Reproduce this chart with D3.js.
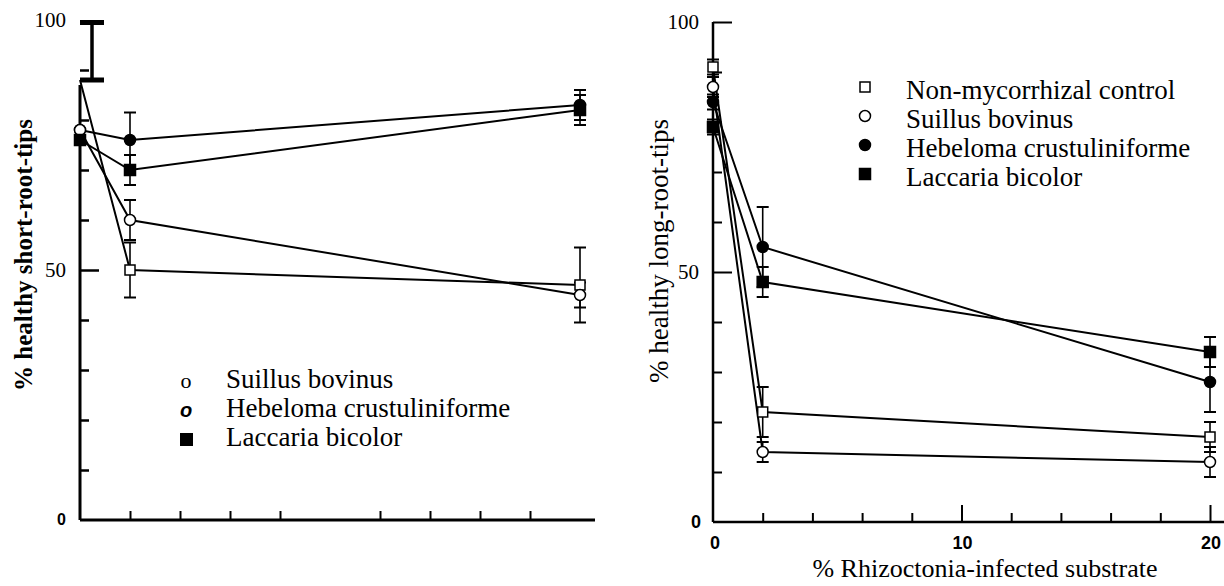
<!DOCTYPE html>
<html>
<head>
<meta charset="utf-8">
<script src="https://cdn.jsdelivr.net/npm/d3@7"></script>
<style>
 body { margin: 0; background: #fff; }
 svg { display: block; }
</style>
</head>
<body>
<div id="chart"></div>
<script>
// x positions (% infected substrate)
var xLevels = [0, 2, 20];

// left panel: % healthy short-root-tips
var shortControl = [88, 50, 47],  shortControlErr = [0, 5.5, 7.5];
var shortSuillus = [78, 60, 45],  shortSuillusErr = [0, 4, 2.5];
var shortHebeloma = [78, 76, 83], shortHebelomaErr = [0, 5.5, 3];
var shortLaccaria = [76, 70, 82], shortLaccariaErr = [0, 3, 3];
var lsdBar = [88, 99.5];   // the lone bar near the top of the left panel

// right panel: % healthy long-root-tips
var longControl = [91, 22, 17],  longControlErr = [1.5, 5, 3];
var longSuillus = [87, 14, 12],  longSuillusErr = [2, 2, 3];
var longHebeloma = [84, 55, 28], longHebelomaErr = [1.5, 8, 6];
var longLaccaria = [79, 48, 34], longLaccariaErr = [1.5, 3, 3];

var seriesNames = ["Non-mycorrhizal control", "Suillus bovinus", "Hebeloma crustuliniforme", "Laccaria bicolor"];
var yTicks = [10, 20, 30, 40, 50, 60, 70, 80, 90];
var leftXTicks = [2, 4, 6, 8, 12, 14, 16, 18];
var rightXTicks = [2, 4, 6, 8, 10, 12, 14, 16, 18, 20];
var rightXLabels = [0, 10, 20];

var SERIF = '"Liberation Serif", "DejaVu Serif", "Noto Serif", "Times New Roman", serif';
var SANS = '"Liberation Sans", Arial, "DejaVu Sans", sans-serif';

var W = 1224, H = 586;
var svg = d3.select("#chart").append("svg").attr("width", W).attr("height", H);

var xL = d3.scaleLinear().domain([0, 20]).range([80, 580]);
var yL = d3.scaleLinear().domain([0, 100]).range([520, 20]);
var xR = d3.scaleLinear().domain([0, 20]).range([713, 1210]);
var yR = d3.scaleLinear().domain([0, 100]).range([522, 22]);

var shapes = ["openSquare", "openCircle", "fillCircle", "fillSquare"];

function makeSeries(vals, errs) {
  return vals.map(function(v, i) {
    return {shape: shapes[i], pts: xLevels.map(function(x, j) { return {x: x, y: v[j], e: errs[i][j]}; })};
  });
}
var leftSeries = makeSeries([shortControl, shortSuillus, shortHebeloma, shortLaccaria],
  [shortControlErr, shortSuillusErr, shortHebelomaErr, shortLaccariaErr]);
var rightSeries = makeSeries([longControl, longSuillus, longHebeloma, longLaccaria],
  [longControlErr, longSuillusErr, longHebelomaErr, longLaccariaErr]);

function serifText(g, x, y, size, txt) {
  return g.append("text").attr("x", x).attr("y", y)
    .style("font-family", SERIF).style("font-size", size + "px").text(txt);
}
function sansText(g, x, y, size, txt) {
  return g.append("text").attr("x", x).attr("y", y)
    .style("font-family", SANS).style("font-weight", "bold").style("font-size", size + "px").text(txt);
}

function drawMarker(g, shape, cx, cy) {
  if (shape == "openSquare" || shape == "fillSquare") {
    var s = shape == "openSquare" ? 10 : 11;
    g.append("rect").attr("x", cx - s / 2).attr("y", cy - s / 2).attr("width", s).attr("height", s)
      .attr("fill", shape == "openSquare" ? "#fff" : "#000").attr("stroke", "#000").attr("stroke-width", 1.5);
  } else {
    g.append("circle").attr("cx", cx).attr("cy", cy).attr("r", 5.5)
      .attr("fill", shape == "openCircle" ? "#fff" : "#000").attr("stroke", "#000").attr("stroke-width", 1.5);
  }
}

function drawData(g, series, x, y, order, skipFirstMarker) {
  var line = d3.line().x(function(d) { return x(d.x); }).y(function(d) { return y(d.y); });
  series.forEach(function(s) {
    g.append("path").datum(s.pts).attr("d", line)
      .attr("fill", "none").attr("stroke", "#000").attr("stroke-width", 2);
  });
  // error bars
  series.forEach(function(s) {
    s.pts.forEach(function(p) {
      if (!p.e) return;
      var px = x(p.x);
      g.append("line").attr("x1", px).attr("x2", px).attr("y1", y(p.y - p.e)).attr("y2", y(p.y + p.e))
        .attr("stroke", "#000").attr("stroke-width", 1.6);
      [p.y - p.e, p.y + p.e].forEach(function(v) {
        g.append("line").attr("x1", px - 6).attr("x2", px + 6).attr("y1", y(v)).attr("y2", y(v))
          .attr("stroke", "#000").attr("stroke-width", 2);
      });
    });
  });
  order.forEach(function(i) {
    var s = series[i];
    s.pts.forEach(function(p, j) {
      if (skipFirstMarker && skipFirstMarker[i] && j == 0) return;
      drawMarker(g, s.shape, x(p.x), y(p.y));
    });
  });
}

// ---------- left panel ----------
var gL = svg.append("g");

// y ticks pointing inward
gL.append("g").attr("transform", "translate(" + xL(0) + ",0)")
  .call(d3.axisRight(yL).tickValues(yTicks).tickSize(9).tickFormat(""))
  .call(function(a) {
    a.select(".domain").remove();
    a.selectAll(".tick line").attr("stroke", "#000").attr("stroke-width", 2.5)
      .attr("x2", function(d) { return d == 50 ? 19 : 9; });
  });
gL.append("line").attr("x1", xL(0)).attr("x2", xL(0)).attr("y1", yL(0)).attr("y2", yL(87))
  .attr("stroke", "#000").attr("stroke-width", 3);

// x axis, ticks pointing up
gL.append("g").attr("transform", "translate(0," + yL(0) + ")")
  .call(d3.axisTop(xL).tickValues(leftXTicks).tickSize(9).tickFormat(""))
  .call(function(a) {
    a.select(".domain").remove();
    a.selectAll(".tick line").attr("stroke", "#000").attr("stroke-width", 2);
  });
gL.append("line").attr("x1", xL(0)).attr("x2", xL(20.6)).attr("y1", yL(0)).attr("y2", yL(0))
  .attr("stroke", "#000").attr("stroke-width", 3);

serifText(gL, 66, yL(100) + 7, 21, "100").attr("text-anchor", "end");
serifText(gL, 66, yL(50) + 7, 21, "50").attr("text-anchor", "end");
sansText(gL, 66, yL(0) + 5, 16, "0").attr("text-anchor", "end");

serifText(gL, 0, 0, 25, "% healthy short-root-tips")
  .attr("transform", "translate(32,255) rotate(-90)")
  .attr("text-anchor", "middle").style("font-weight", "bold");

// lsd bar
var lx = xL(0.48);
gL.append("line").attr("x1", lx).attr("x2", lx).attr("y1", yL(lsdBar[0])).attr("y2", yL(lsdBar[1]))
  .attr("stroke", "#000").attr("stroke-width", 3.5);
lsdBar.forEach(function(v) {
  gL.append("line").attr("x1", lx - 12).attr("x2", lx + 12).attr("y1", yL(v)).attr("y2", yL(v))
    .attr("stroke", "#000").attr("stroke-width", 5);
});

drawData(gL, leftSeries, xL, yL, [0, 2, 1, 3], [true, false, false, false]);

// left legend
var legL = gL.append("g");
serifText(legL, 186, 388, 22, "o").attr("text-anchor", "middle");
sansText(legL, 186, 417, 20, "o").attr("text-anchor", "middle").style("font-style", "italic");
legL.append("rect").attr("x", 180).attr("y", 433).attr("width", 13).attr("height", 13).attr("fill", "#000");
seriesNames.slice(1).forEach(function(n, i) {
  serifText(legL, 226, 388 + i * 29, 27, n);
});

// ---------- right panel ----------
var gR = svg.append("g");

gR.append("g").attr("transform", "translate(" + xR(0) + ",0)")
  .call(d3.axisRight(yR).tickValues(yTicks.concat([100])).tickSize(9).tickFormat(""))
  .call(function(a) {
    a.select(".domain").remove();
    a.selectAll(".tick line").attr("stroke", "#000").attr("stroke-width", 2)
      .attr("x2", function(d) { return (d == 50 || d == 100) ? 19 : 9; });
  });
gR.append("line").attr("x1", xR(0)).attr("x2", xR(0)).attr("y1", yR(0)).attr("y2", yR(100))
  .attr("stroke", "#000").attr("stroke-width", 2.5);

gR.append("g").attr("transform", "translate(0," + yR(0) + ")")
  .call(d3.axisTop(xR).tickValues(rightXTicks).tickSize(9).tickFormat(""))
  .call(function(a) {
    a.select(".domain").remove();
    a.selectAll(".tick line").attr("stroke", "#000").attr("stroke-width", 2)
      .attr("y2", function(d) { return d % 10 == 0 ? -17 : -9; });
  });
gR.append("line").attr("x1", xR(0)).attr("x2", W).attr("y1", yR(0)).attr("y2", yR(0))
  .attr("stroke", "#000").attr("stroke-width", 2.5);

serifText(gR, 699, yR(100) + 7, 21, "100").attr("text-anchor", "end");
serifText(gR, 699, yR(50) + 7, 21, "50").attr("text-anchor", "end");
sansText(gR, 701, yR(0) + 6, 18, "0").attr("text-anchor", "end");

rightXLabels.forEach(function(v) {
  sansText(gR, xR(v) + (v == 0 ? 2 : 1), 549, 18, v).attr("text-anchor", "middle");
});

serifText(gR, 985, 577, 26, "% Rhizoctonia-infected substrate").attr("text-anchor", "middle");

serifText(gR, 0, 0, 27, "% healthy long-root-tips")
  .attr("transform", "translate(668,251) rotate(-90)")
  .attr("text-anchor", "middle");

drawData(gR, rightSeries, xR, yR, [0, 1, 2, 3]);

// right legend
var legR = gR.append("g");
seriesNames.forEach(function(n, i) {
  var yy = 99 + i * 29;
  drawMarker(legR, shapes[i], 865, yy - 12);
  serifText(legR, 906, yy, 27, n);
});
</script>
</body>
</html>
